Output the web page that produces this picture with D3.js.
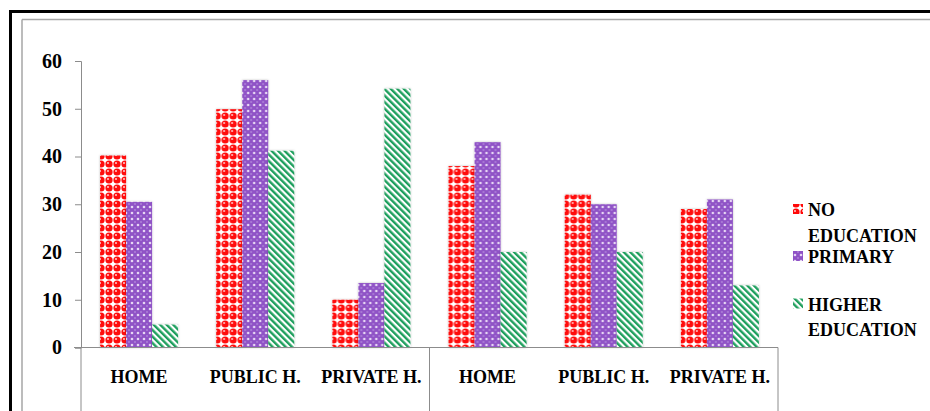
<!DOCTYPE html>
<html>
<head>
<meta charset="utf-8">
<script src="https://cdn.jsdelivr.net/npm/d3@7"></script>
<style>
  html, body { margin: 0; padding: 0; background: #fff; }
  svg { display: block; }
</style>
</head>
<body>
<svg id="chart" width="930" height="411"></svg>
<script>
// Place of delivery by mother's education level (two study groups)
const categories = ["HOME", "PUBLIC H.", "PRIVATE H.", "HOME", "PUBLIC H.", "PRIVATE H."];
const seriesNames = ["NO EDUCATION", "PRIMARY", "HIGHER EDUCATION"];
const noEducation = [40.2, 49.9, 10, 38, 32, 29];
const primary = [30.5, 56, 13.5, 43, 30, 31];
const higherEducation = [4.8, 41.2, 54.2, 20, 20, 13];
const yTicks = [0, 10, 20, 30, 40, 50, 60];
const legendLines = [["NO", "EDUCATION"], ["PRIMARY"], ["HIGHER", "EDUCATION"]];

const seriesValues = [noEducation, primary, higherEducation];
const fills = ["url(#patRed)", "url(#patPurple)", "url(#patGreen)"];
const SERIF = "'Liberation Serif'";

const svg = d3.select("#chart");
const defs = svg.append("defs");

// red spheres on white
const pr = defs.append("pattern").attr("id", "patRed")
  .attr("patternUnits", "userSpaceOnUse").attr("width", 8).attr("height", 8);
pr.append("rect").attr("width", 8).attr("height", 8).attr("fill", "#fff");
pr.append("circle").attr("cx", 4).attr("cy", 4).attr("r", 3.6).attr("fill", "#ff0808");
pr.append("circle").attr("cx", 3).attr("cy", 2.9).attr("r", 1).attr("fill", "#ffcfcf");

// purple with light dots
const pp = defs.append("pattern").attr("id", "patPurple")
  .attr("patternUnits", "userSpaceOnUse").attr("width", 6).attr("height", 6);
pp.append("rect").attr("width", 6).attr("height", 6).attr("fill", "#8f52c6");
pp.append("circle").attr("cx", 3).attr("cy", 3).attr("r", 1.3).attr("fill", "#e6d6f4");
pp.append("circle").attr("cx", 0).attr("cy", 0).attr("r", 0.8).attr("fill", "#c4a2e4");
pp.append("circle").attr("cx", 6).attr("cy", 0).attr("r", 0.8).attr("fill", "#c4a2e4");
pp.append("circle").attr("cx", 0).attr("cy", 6).attr("r", 0.8).attr("fill", "#c4a2e4");
pp.append("circle").attr("cx", 6).attr("cy", 6).attr("r", 0.8).attr("fill", "#c4a2e4");

// green diagonal stripes
const pg = defs.append("pattern").attr("id", "patGreen")
  .attr("patternUnits", "userSpaceOnUse").attr("width", 4.6).attr("height", 4.6)
  .attr("patternTransform", "rotate(-45)");
pg.append("rect").attr("width", 4.6).attr("height", 4.6).attr("fill", "#fff");
pg.append("rect").attr("width", 2.4).attr("height", 4.6).attr("fill", "#1f9f5d");

// soft shadow behind bars
const f = defs.append("filter").attr("id", "soft")
  .attr("x", "-20%").attr("y", "-20%").attr("width", "140%").attr("height", "140%");
f.append("feDropShadow").attr("dx", 0).attr("dy", 0).attr("stdDeviation", 1.2)
  .attr("flood-color", "#000").attr("flood-opacity", 0.25);

// frame
svg.append("line").attr("x1", 10.5).attr("x2", 930).attr("y1", 11.5).attr("y2", 11.5)
  .attr("stroke", "#000").attr("stroke-width", 3);
svg.append("line").attr("x1", 10.5).attr("x2", 10.5).attr("y1", 10).attr("y2", 411)
  .attr("stroke", "#000").attr("stroke-width", 3);
svg.append("line").attr("x1", 22).attr("x2", 930).attr("y1", 19.5).attr("y2", 19.5)
  .attr("stroke", "#a6a6a6").attr("stroke-width", 1.5);
svg.append("line").attr("x1", 22).attr("x2", 22).attr("y1", 19.5).attr("y2", 411)
  .attr("stroke", "#a6a6a6").attr("stroke-width", 1.5);

// scales
const plotLeft = 81, plotRight = 778, plotTop = 61, plotBase = 347.5;
const idx = d3.range(categories.length);
const x0 = d3.scaleBand().domain(idx).range([plotLeft, plotRight]).padding(0);
const x1 = d3.scaleBand().domain(d3.range(seriesNames.length))
  .range([0, x0.bandwidth()]).paddingInner(0).paddingOuter(0.734);
const y = d3.scaleLinear().domain([0, 60]).range([plotBase, plotTop]);

// y axis
const yAxis = svg.append("g").attr("transform", `translate(${plotLeft},0)`)
  .call(d3.axisLeft(y).tickValues(yTicks).tickSize(6).tickPadding(13).tickFormat(d3.format("d")));
yAxis.attr("font-family", null).attr("font-size", null);
yAxis.select(".domain").attr("stroke", "#8c8c8c");
yAxis.selectAll(".tick line").attr("stroke", "#8c8c8c");
yAxis.selectAll(".tick text")
  .style("font-family", SERIF).style("font-weight", "bold").style("font-size", "20px")
  .attr("fill", "#000");

// bars
const groups = svg.append("g").selectAll("g").data(idx).join("g")
  .attr("transform", i => `translate(${x0(i)},0)`);
groups.selectAll("rect")
  .data(i => seriesValues.map((vals, s) => ({ s, v: vals[i] })))
  .join("rect")
  .attr("x", d => x1(d.s))
  .attr("width", x1.bandwidth())
  .attr("y", d => y(d.v))
  .attr("height", d => y(0) - y(d.v))
  .attr("fill", d => fills[d.s])
  .attr("filter", "url(#soft)");

// category axis with group separators
svg.append("line").attr("x1", plotLeft - 7).attr("x2", plotRight).attr("y1", plotBase).attr("y2", plotBase)
  .attr("stroke", "#8c8c8c").attr("stroke-width", 1);
[0, 3, 6].forEach(k => {
  const xx = k < 6 ? x0(k) : x0(5) + x0.bandwidth();
  svg.append("line").attr("x1", xx).attr("x2", xx).attr("y1", plotBase).attr("y2", 411)
    .attr("stroke", "#8c8c8c").attr("stroke-width", 1);
});
svg.append("g").selectAll("text").data(idx).join("text")
  .attr("x", i => x0(i) + x0.bandwidth() / 2)
  .attr("y", 383)
  .attr("text-anchor", "middle")
  .style("font-family", SERIF).style("font-weight", "bold").style("font-size", "18px")
  .text(i => categories[i]);

// legend
const legendTop = [216, 263, 310.5];
const lg = svg.append("g");
seriesNames.forEach((name, s) => {
  lg.append("rect").attr("x", 793).attr("y", legendTop[s] - 12).attr("width", 10).attr("height", 10)
    .attr("fill", fills[s]);
  legendLines[s].forEach((ln, j) => {
    lg.append("text").attr("x", 808).attr("y", legendTop[s] + j * 25.5)
      .style("font-family", SERIF).style("font-weight", "bold").style("font-size", "18px")
      .text(ln);
  });
});
</script>
</body>
</html>
